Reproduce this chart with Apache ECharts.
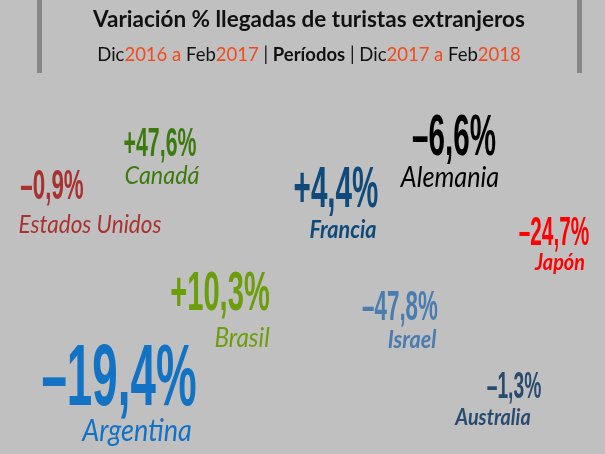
<!DOCTYPE html>
<html>
<head>
<meta charset="utf-8">
<script src="https://cdn.jsdelivr.net/npm/echarts@6/dist/echarts.min.js"></script>
<style>
  html, body { margin: 0; padding: 0; background: #c0c0c0; }
  #chart { width: 605px; height: 454px; }
</style>
</head>
<body>
<div id="chart"></div>
<script>
const countries = ["Estados Unidos", "Canadá", "Francia", "Alemania", "Japón", "Brasil", "Israel", "Argentina", "Australia"];
const variation = [-0.9, 47.6, 4.4, -6.6, -24.7, 10.3, -47.8, -19.4, -1.3];

// layout of each label block, in chart units (0..605 x 0..454)
const pctPos = [[52, 187], [160, 145], [336, 191], [454, 139], [554, 234], [220, 295], [400, 308], [119, 381], [514, 388]];
const namePos = [[90, 225], [162, 176], [343, 230], [450, 178], [560, 263], [242, 338], [412, 340], [137, 431], [493, 418]];
const pctSize = [43, 41, 57, 57, 40, 56, 43, 88, 37];
const nameSize = [25, 26, 24, 28, 22, 27, 24, 30, 22];
const nameBold = [false, false, true, false, true, false, true, false, true];
const colors = ["#a83232", "#3d7a0e", "#0f4a7a", "#000000", "#ff0000", "#6b9e0a", "#4a7cb0", "#1272c4", "#2a4b70"];

const fmtPct = (v) => (v > 0 ? "+" : "\u2013") + Math.abs(v).toFixed(1).replace(".", ",") + "%";

const chart = echarts.init(document.getElementById("chart"));

const sub = { fontSize: 18.5, fontFamily: "Lato", color: "#111" };

chart.setOption({
  animation: false,
  backgroundColor: "#c0c0c0",
  title: {
    text: "Variación % llegadas de turistas extranjeros",
    subtext: "Dic{o|2016 a }Feb{o|2017} | {b|Períodos} | Dic{o|2017 a }Feb{o|2018}",
    left: 309,
    top: 8,
    padding: 0,
    textAlign: "center",
    itemGap: 15,
    textStyle: { fontFamily: "Lato", fontWeight: "bold", fontSize: 22.5, color: "#111" },
    subtextStyle: {
      ...sub,
      rich: {
        o: { ...sub, color: "#f24b1c" },
        b: { ...sub, fontWeight: "bold" },
      },
    },
  },
  graphic: [
    { type: "rect", shape: { x: 37, y: 0, width: 5, height: 73 }, style: { fill: "#878787" } },
    { type: "rect", shape: { x: 577, y: 0, width: 5, height: 73 }, style: { fill: "#878787" } },
  ],
  grid: { left: 0, right: 0, top: 0, bottom: 0 },
  xAxis: { type: "value", min: 0, max: 605, show: false },
  yAxis: { type: "value", min: 0, max: 454, inverse: true, show: false },
  series: [
    {
      type: "custom",
      coordinateSystem: "cartesian2d",
      data: pctPos.map((p, i) => [p[0], p[1], namePos[i][0], namePos[i][1]]),
      renderItem: (params, api) => {
        const i = params.dataIndex;
        const p = api.coord([api.value(0), api.value(1)]);
        const n = api.coord([api.value(2), api.value(3)]);
        return {
          type: "group",
          children: [
            {
              type: "text",
              x: p[0],
              y: p[1],
              scaleX: 0.52,
              style: {
                text: fmtPct(variation[i]),
                fontFamily: "Liberation Sans",
                fontWeight: "bold",
                fontSize: pctSize[i],
                fill: colors[i],
                align: "center",
                verticalAlign: "middle",
              },
            },
            {
              type: "text",
              x: n[0],
              y: n[1],
              scaleX: 0.9,
              style: {
                text: countries[i],
                fontFamily: "Lato",
                fontStyle: "italic",
                fontWeight: nameBold[i] ? "bold" : "normal",
                fontSize: nameSize[i],
                fill: colors[i],
                align: "center",
                verticalAlign: "middle",
              },
            },
          ],
        };
      },
    },
  ],
});

window.addEventListener("resize", () => chart.resize());
</script>
</body>
</html>
